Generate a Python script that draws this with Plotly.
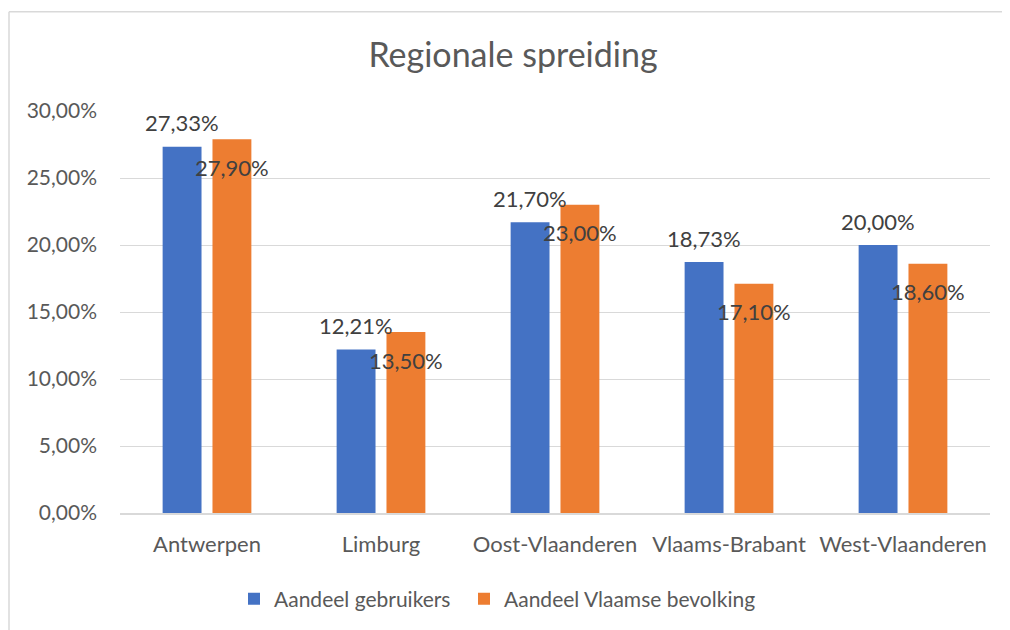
import plotly.graph_objects as go

categories = ["Antwerpen", "Limburg", "Oost-Vlaanderen", "Vlaams-Brabant", "West-Vlaanderen"]
gebruikers = [0.2733, 0.1221, 0.2170, 0.1873, 0.2000]
bevolking = [0.2790, 0.1350, 0.2300, 0.1710, 0.1860]
y_ticks = [0, 0.05, 0.10, 0.15, 0.20, 0.25, 0.30]
y_ticklabels = ["0,00%", "5,00%", "10,00%", "15,00%", "20,00%", "25,00%", "30,00%"]

def fmt(v):
    return f"{v*100:.2f}%".replace(".", ",")

FONT = "Lato"
OFF = 8  # page body margin
W, H = 1010 - OFF, 630 - OFF
L, T = 120 - OFF, 111 - OFF
R = W - (990 - OFF)
B = H - (514 - OFF)
pw, ph = W - L - R, H - T - B

fig = go.Figure()
fig.add_trace(go.Bar(name="Aandeel gebruikers", x=categories, y=gebruikers,
                     marker=dict(color="#4472C4", line=dict(width=0)), hoverinfo="skip",
                     legend="legend", showlegend=True))
fig.add_trace(go.Bar(name="Aandeel Vlaamse bevolking", x=categories, y=bevolking,
                     marker=dict(color="#ED7D31", line=dict(width=0)), hoverinfo="skip",
                     legend="legend2", showlegend=True))

annotations = []
for c, v in zip(categories, gebruikers):
    annotations.append(dict(x=c, y=v, xref="x", yref="y", text=fmt(v), showarrow=False,
                            xshift=-25, yshift=24, yanchor="middle",
                            font=dict(family=FONT, size=22, color="#404040")))
for c, v in zip(categories, bevolking):
    annotations.append(dict(x=c, y=v, xref="x", yref="y", text=fmt(v), showarrow=False,
                            xshift=25, yshift=-28, yanchor="middle",
                            font=dict(family=FONT, size=22, color="#404040")))

def px_to_xpaper(px):
    return (px - OFF - L) / pw

def py_to_ypaper(py):
    return (H - B - (py - OFF)) / ph

bx0 = px_to_xpaper(9)
by1 = py_to_ypaper(11.5)
bx1 = px_to_xpaper(1030)
by0 = py_to_ypaper(660)

legend_common = dict(orientation="h", xanchor="left", y=py_to_ypaper(599), yanchor="middle",
                     font=dict(family=FONT, size=21, color="#595959"), itemwidth=30,
                     bgcolor="rgba(0,0,0,0)", visible=True)

border = dict(color="#d9d9d9", width=1.5)

fig.update_layout(
    width=W, height=H,
    showlegend=True,
    margin=dict(l=L, r=R, t=T, b=B),
    paper_bgcolor="white", plot_bgcolor="white",
    barmode="group", bargap=0.427, bargroupgap=0.22,
    separators=", ",
    title=dict(text="Regionale spreiding", x=(513 - OFF) / W, xanchor="center",
               y=1 - (55 - OFF) / H, yanchor="middle",
               font=dict(family=FONT, size=34, color="#595959")),
    font=dict(family=FONT, color="#595959"),
    xaxis=dict(showgrid=False, showline=True, linecolor="#d9d9d9", linewidth=1.5,
               ticks="", tickfont=dict(family=FONT, size=22, color="#595959"),
               ticklabelstandoff=11, fixedrange=True),
    yaxis=dict(range=[0, 0.30], tickvals=y_ticks, ticktext=y_ticklabels,
               showgrid=True, gridcolor="#d9d9d9", gridwidth=1, zeroline=False,
               showline=False, ticks="", tickfont=dict(family=FONT, size=21, color="#595959"),
               ticklabelstandoff=22, fixedrange=True),
    legend=dict(x=px_to_xpaper(234), **legend_common),
    legend2=dict(x=px_to_xpaper(464), **legend_common),
    annotations=annotations,
    shapes=[
        dict(type="line", xref="paper", yref="paper", x0=bx0, x1=bx1, y0=by1, y1=by1,
             line=border, layer="below"),
        dict(type="line", xref="paper", yref="paper", x0=bx0, x1=bx0, y0=by1, y1=by0,
             line=border, layer="below"),
    ],
)

fig.write_html("out.html")
